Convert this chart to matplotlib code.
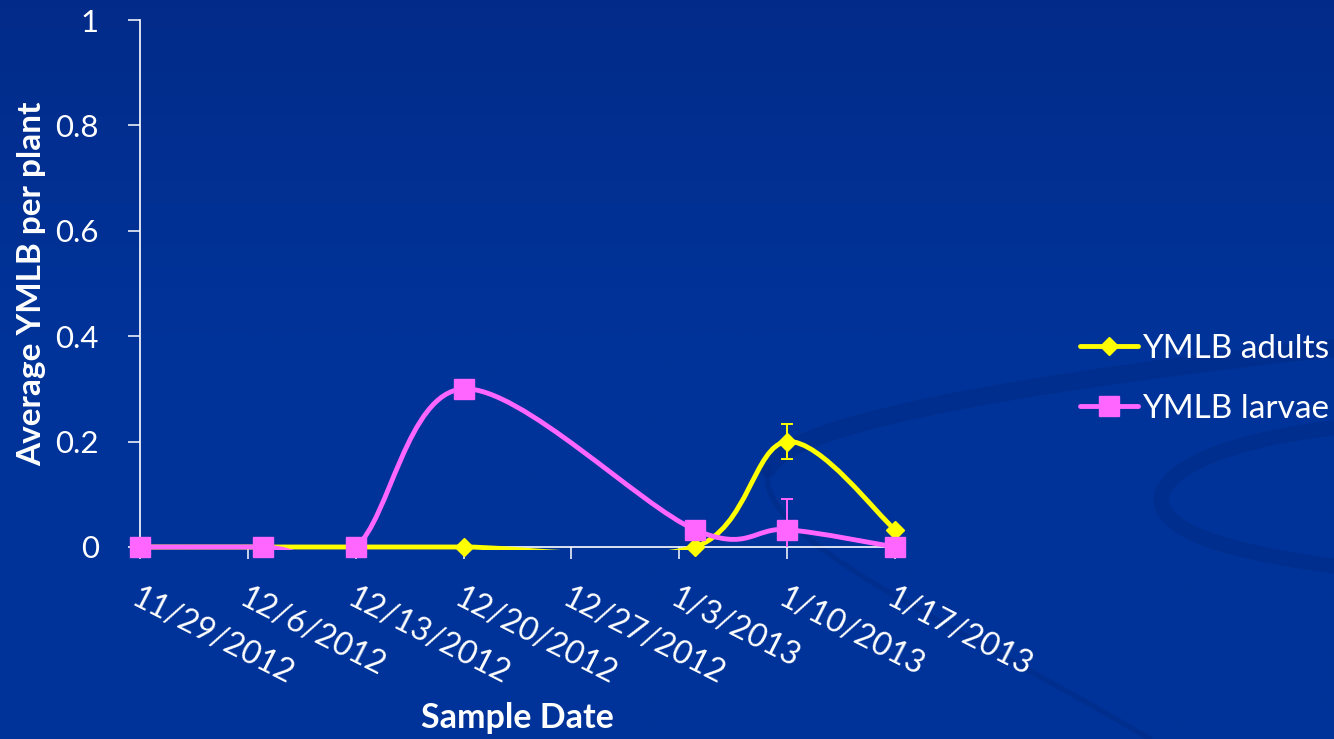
import matplotlib
matplotlib.use("Agg")
import matplotlib.pyplot as plt
import matplotlib.dates as mdates
import numpy as np
from matplotlib.lines import Line2D
from matplotlib.patches import PathPatch, Rectangle
from matplotlib.path import Path

# weekly survey dates and mean counts per plant
sample_dates = ["2012-11-29", "2012-12-07", "2012-12-13", "2012-12-20",
                "2013-01-04", "2013-01-10", "2013-01-17"]
adults = [0.0, 0.0, 0.0, 0.0, 0.0, 0.2, 0.033]
larvae = [0.0, 0.0, 0.0, 0.3, 0.033, 0.033, 0.0]
# standard errors (only the 1/10 sample has spread)
adults_se = [0.0, 0.0, 0.0, 0.0, 0.0, 0.033, 0.0]
larvae_se = [0.0, 0.0, 0.0, 0.0, 0.0, 0.058, 0.0]

tick_dates = ["2012-11-29", "2012-12-06", "2012-12-13", "2012-12-20",
              "2012-12-27", "2013-01-03", "2013-01-10", "2013-01-17"]
tick_labels = ["11/29/2012", "12/6/2012", "12/13/2012", "12/20/2012",
               "12/27/2012", "1/3/2013", "1/10/2013", "1/17/2013"]
y_ticks = [0, 0.2, 0.4, 0.6, 0.8, 1]
y_tick_labels = ["0", "0.2", "0.4", "0.6", "0.8", "1"]

YELLOW = "#ffff00"
PINK = "#ff66ff"
FONT = "Lato"

plt.rcParams["font.family"] = [FONT, "DejaVu Sans"]


def to_num(dates):
    return mdates.date2num(np.array(dates, dtype="datetime64[D]"))


def smooth_path(xs, ys):
    """Cubic Bezier through the points, Catmull-Rom style tangents."""
    pts = np.column_stack([xs, ys]).astype(float)
    n = len(pts)
    verts = [pts[0]]
    codes = [Path.MOVETO]
    for i in range(n - 1):
        prev = pts[i - 1] if i > 0 else pts[i]
        nxt = pts[i + 2] if i + 2 < n else pts[i + 1]
        c1 = pts[i] + (pts[i + 1] - prev) / 6.0
        c2 = pts[i + 1] - (nxt - pts[i]) / 6.0
        verts += [c1, c2, pts[i + 1]]
        codes += [Path.CURVE4] * 3
    return Path(verts, codes)


def bezier(*pts):
    codes = [Path.MOVETO] + [Path.CURVE4] * (len(pts) - 1)
    return Path(pts, codes)


W, H = 1334, 739
fig = plt.figure(figsize=(W / 100, H / 100), dpi=100)

# slide background: vertical gradient plus faint swooshes (pixel coords)
bg = fig.add_axes([0, 0, 1, 1], zorder=-5)
grad = np.linspace(0, 1, 256)[:, None]
top = np.array([0.01, 0.17, 0.54])
mid = np.array([0.0, 0.20, 0.60])
w = np.clip(grad / 0.45, 0, 1)
img = top * (1 - w)[..., None] + mid * w[..., None]
bg.imshow(np.repeat(img, 2, axis=1), aspect="auto", extent=[0, W, H, 0])
swoosh = "#00287f"
bands = [
    (bezier((1334, 348), (1060, 378), (790, 420), (768, 468)), 13),
    (bezier((768, 468), (752, 540), (950, 620), (1150, 739)), 4),
    (bezier((1334, 428), (1210, 442), (1150, 478), (1163, 508),
            (1176, 540), (1260, 556), (1334, 566)), 11),
]
for path, lw in bands:
    bg.add_patch(PathPatch(path, fill=False, edgecolor=swoosh, lw=lw,
                           alpha=0.4, capstyle="round"))
bg.set_xlim(0, W)
bg.set_ylim(H, 0)
bg.axis("off")

ax = fig.add_axes([140 / W, 1 - 547 / H, (895 - 140) / W, (547 - 20) / H])
ax.patch.set_alpha(0)

x = to_num(sample_dates)
xticks = to_num(tick_dates)

# the plot area clips the curves just below zero, markers stay whole
clip = Rectangle((0, -0.006), 1, 1.006, transform=ax.transAxes)

series = [
    (adults, adults_se, YELLOW, "D", 9.5, "YMLB adults"),
    (larvae, larvae_se, PINK, "s", 14, "YMLB larvae"),
]
handles = []
for z, (vals, se, color, marker, ms, label) in enumerate(series):
    base = 3 + z * 2
    curve = PathPatch(smooth_path(x, vals), fill=False, edgecolor=color,
                      lw=3.5, capstyle="round", joinstyle="round", zorder=base)
    ax.add_patch(curve)
    curve.set_clip_path(clip)
    eb = ax.errorbar(x, vals, yerr=se, fmt="none", ecolor=color,
                     elinewidth=1.4, capsize=4.5, capthick=1.4, zorder=base)
    for part in eb.lines[1] + eb.lines[2]:
        part.set_clip_on(True)
    ax.plot(x, vals, linestyle="none", marker=marker, ms=ms, color=color,
            mec=color, clip_on=False, zorder=base + 1)
    handles.append(Line2D([], [], color=color, lw=3.5, marker=marker, ms=ms,
                          solid_capstyle="round"))

ax.set_xlim(xticks[0], xticks[-1])
ax.set_ylim(0, 1)

for side in ("top", "right"):
    ax.spines[side].set_visible(False)
for side in ("left", "bottom"):
    ax.spines[side].set_color("white")
    ax.spines[side].set_linewidth(1.2)

ax.set_yticks(y_ticks)
ax.set_yticklabels(y_tick_labels)
ax.set_xticks(xticks)
ax.set_xticklabels(tick_labels, rotation=-27, ha="left", va="top",
                   rotation_mode="anchor")
ax.tick_params(axis="both", colors="white", length=8.5, width=1.1,
               direction="out", labelsize=22.5)
ax.tick_params(axis="y", pad=21)
ax.tick_params(axis="x", pad=17)
for lbl in ax.get_xticklabels():
    lbl.set_fontsize(23)

ax.set_ylabel("Average YMLB per plant", color="white", fontsize=24,
              fontweight="bold")
ax.yaxis.set_label_coords(-0.143, 0.5)
ax.yaxis.label.set_va("center")
ax.set_xlabel("Sample Date", color="white", fontsize=24.5, fontweight="bold")
ax.xaxis.set_label_coords(0.5, -0.324)
ax.xaxis.label.set_va("center")

fig.legend(handles, [s[5] for s in series], loc="center left",
           bbox_to_anchor=(1080 / W, 1 - 379 / H), frameon=False,
           fontsize=24, labelcolor="white", handlelength=1.75,
           handletextpad=0.1, labelspacing=0.9, borderpad=0,
           borderaxespad=0)

fig.savefig("out.png", dpi=100)
